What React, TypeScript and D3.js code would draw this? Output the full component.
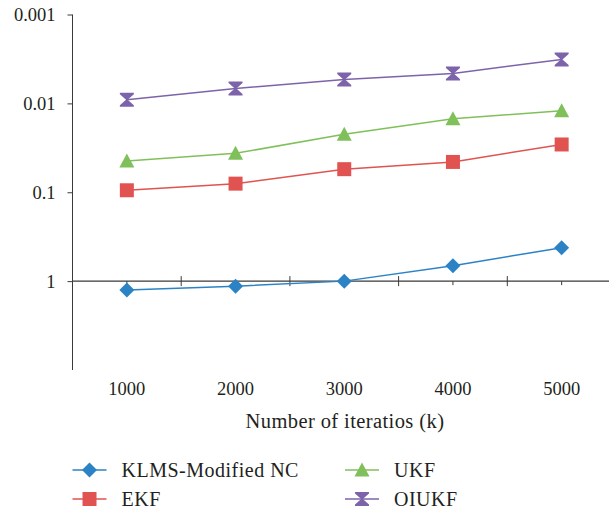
import * as d3 from 'd3'
import { useEffect, useRef } from 'react'

const iterations = ['1000', '2000', '3000', '4000', '5000']
const klms = [1.26, 1.14, 1.0, 0.67, 0.42]
const ekf = [0.095, 0.08, 0.055, 0.0456, 0.029]
const ukf = [0.0444, 0.0365, 0.0223, 0.0149, 0.0121]
const oiukf = [0.0091, 0.0068, 0.0054, 0.0046, 0.0032]
const yTicks = [0.001, 0.01, 0.1, 1]

const seriesList = [
  { name: 'KLMS-Modified NC', values: klms, color: '#2b83c6', marker: 'diamond' },
  { name: 'EKF', values: ekf, color: '#e05350', marker: 'square' },
  { name: 'UKF', values: ukf, color: '#80c05a', marker: 'triangle' },
  { name: 'OIUKF', values: oiukf, color: '#7d63aa', marker: 'hourglass' },
]

const FONT = 'Liberation Serif'
const FS = '18.5px'
const TEXT = '#231f20'
const AXIS = '#3a3a3a'

const markerPath = (type: string) => {
  switch (type) {
    case 'diamond':
      return 'M0,-7.5L7.5,0L0,7.5L-7.5,0Z'
    case 'square':
      return 'M-7,-7H7V7H-7Z'
    case 'triangle':
      return 'M0,-7.5L7.5,6.5H-7.5Z'
    default:
      return 'M-7,-7H7V-5.5L0.8,0L7,5.5V7H-7V5.5L-0.8,0L-7,-5.5Z'
  }
}

const App = () => {
  const ref = useRef<HTMLDivElement>(null)

  useEffect(() => {
    if (!ref.current) return
    d3.select(ref.current).select('svg').remove()

    const width = 609
    const height = 513
    const left = 72.5
    const band = 108.7

    const svg = d3
      .select(ref.current)
      .append('svg')
      .attr('width', width)
      .attr('height', height)
      .style('position', 'absolute')
      .style('left', 0)
      .style('top', 0)

    const x = d3
      .scaleBand<string>()
      .domain(iterations)
      .range([left, left + band * iterations.length])
    const y = d3.scaleLog().domain([0.001, 10]).range([14.5, 370])

    // Y axis
    svg
      .append('g')
      .attr('transform', `translate(${left},0)`)
      .call(
        d3
          .axisLeft(y)
          .tickValues(yTicks)
          .tickSize(5)
          .tickPadding(12)
          .tickFormat((d) => `${d}`)
      )
      .attr('font-family', FONT)
      .attr('font-size', FS)
      .call((g) => g.select('.domain').attr('stroke', AXIS).attr('d', `M0,${y(0.001)}V${y(10)}`))
      .call((g) => g.selectAll('.tick line').attr('stroke', AXIS))
      .call((g) => g.selectAll('.tick text').attr('fill', TEXT))

    // X axis line at 1
    const y1 = y(1)
    svg
      .append('line')
      .attr('x1', left)
      .attr('x2', width)
      .attr('y1', y1)
      .attr('y2', y1)
      .attr('stroke', AXIS)
      .attr('stroke-width', 1.3)

    const bounds = d3.range(iterations.length + 1).map((i) => left + i * x.bandwidth())
    svg
      .selectAll('.bt')
      .data(bounds)
      .enter()
      .append('line')
      .attr('x1', (d) => d)
      .attr('x2', (d) => d)
      .attr('y1', y1 - 5)
      .attr('y2', y1 + 5)
      .attr('stroke', AXIS)
    svg
      .selectAll('.ct')
      .data(iterations)
      .enter()
      .append('line')
      .attr('x1', (d) => x(d)! + x.bandwidth() / 2)
      .attr('x2', (d) => x(d)! + x.bandwidth() / 2)
      .attr('y1', y1)
      .attr('y2', y1 + 4)
      .attr('stroke', AXIS)

    svg
      .selectAll('.xl')
      .data(iterations)
      .enter()
      .append('text')
      .attr('x', (d) => x(d)! + x.bandwidth() / 2)
      .attr('y', 395)
      .attr('text-anchor', 'middle')
      .attr('fill', TEXT)
      .attr('font-family', FONT)
      .attr('font-size', FS)
      .text((d) => d)

    svg
      .append('text')
      .attr('x', 345)
      .attr('y', 428)
      .attr('text-anchor', 'middle')
      .attr('fill', TEXT)
      .attr('font-family', FONT)
      .attr('font-size', '20.5px')
      .attr('letter-spacing', 0.4)
      .text('Number of iteratios (k)')

    // series
    const line = d3
      .line<number>()
      .x((_, i) => x(iterations[i])! + x.bandwidth() / 2)
      .y((d) => y(d))

    seriesList.forEach((s) => {
      svg
        .append('path')
        .datum(s.values)
        .attr('d', line)
        .attr('fill', 'none')
        .attr('stroke', s.color)
        .attr('stroke-width', 1.5)
      svg
        .selectAll(null)
        .data(s.values)
        .enter()
        .append('path')
        .attr('d', markerPath(s.marker))
        .attr('transform', (d, i) => `translate(${x(iterations[i])! + x.bandwidth() / 2},${y(d)})`)
        .attr('fill', s.color)
    })

    // legend
    const legend = svg
      .selectAll('.lg')
      .data(seriesList)
      .enter()
      .append('g')
      .attr('transform', (_, i) => `translate(${i < 2 ? 72.5 : 345},${i % 2 === 0 ? 470 : 499})`)
    legend
      .append('line')
      .attr('x1', 0)
      .attr('x2', 34)
      .attr('stroke', (d) => d.color)
      .attr('stroke-width', 1.5)
    legend
      .append('path')
      .attr('d', (d) => markerPath(d.marker))
      .attr('transform', 'translate(17,0)')
      .attr('fill', (d) => d.color)
    legend
      .append('text')
      .attr('x', 49)
      .attr('dy', '0.35em')
      .attr('fill', TEXT)
      .attr('font-family', FONT)
      .attr('font-size', '20px')
      .attr('letter-spacing', 0.5)
      .text((d) => d.name)
  }, [])

  return <div ref={ref} />
}

export default App
